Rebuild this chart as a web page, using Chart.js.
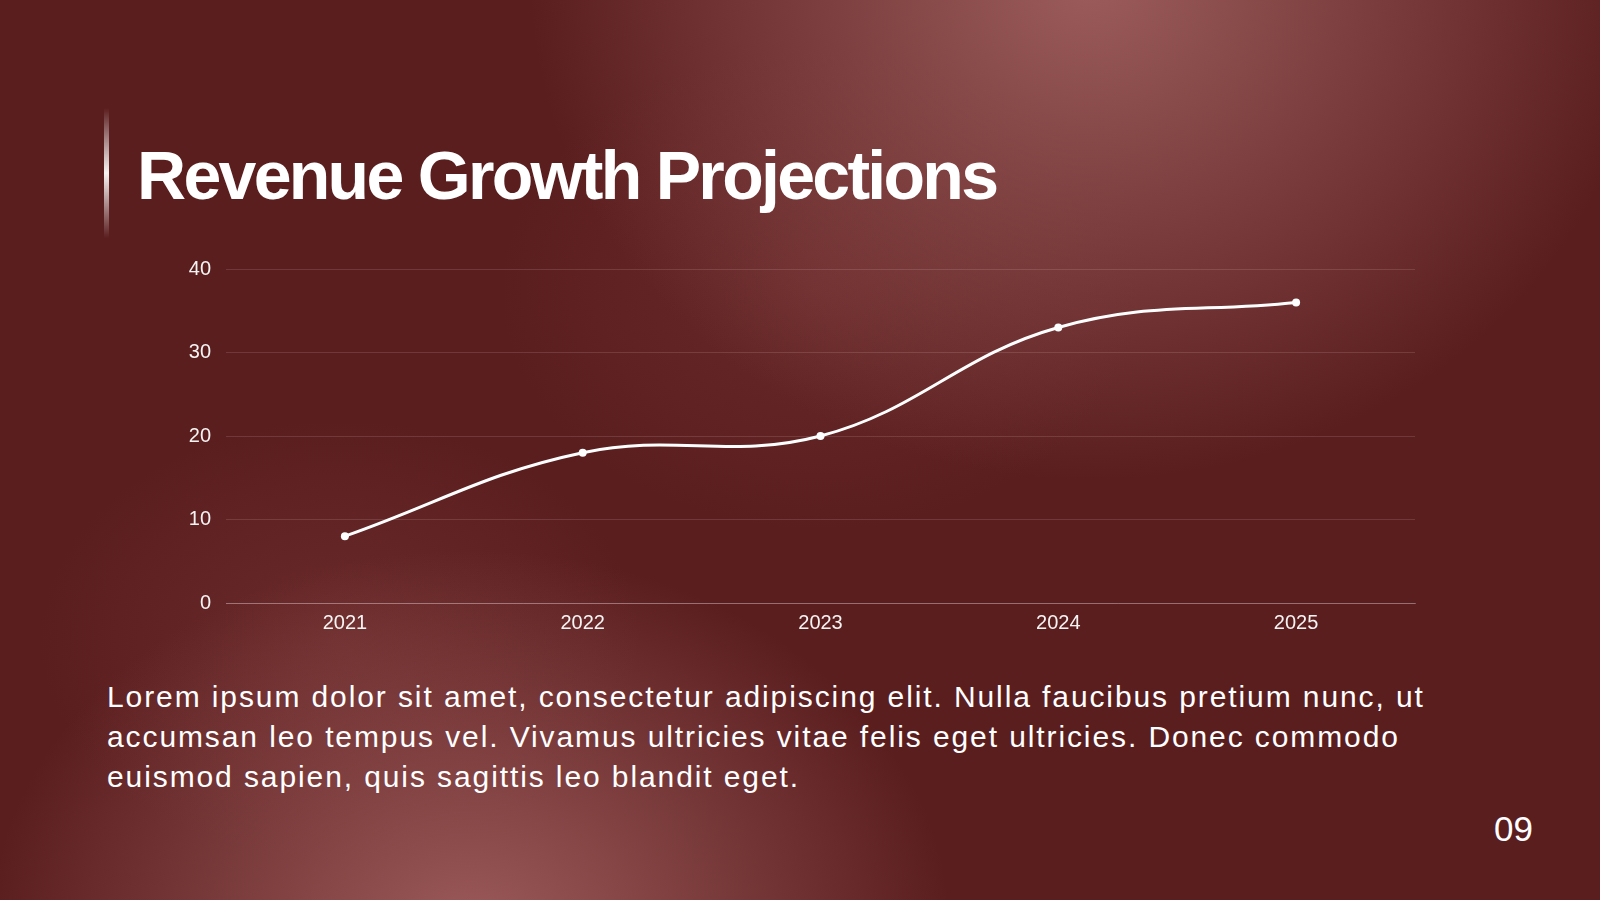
<!DOCTYPE html>
<html>
<head>
<meta charset="utf-8">
<title>Revenue Growth Projections</title>
<script src="https://cdn.jsdelivr.net/npm/chart.js@4/dist/chart.umd.min.js"></script>
<style>
  html, body { margin: 0; padding: 0; }
  body {
    width: 1600px;
    height: 900px;
    position: relative;
    overflow: hidden;
    font-family: "Liberation Sans", Arial, sans-serif;
    color: #fff;
    background-color: #5b1e1f;
    background-image:
      radial-gradient(ellipse 560px 500px at 1090px -20px, rgba(156, 92, 92, 1) 0%, rgba(156, 92, 92, 0.55) 45%, rgba(91, 30, 31, 0) 100%),
      radial-gradient(ellipse 480px 380px at 470px 930px, rgba(156, 90, 90, 1) 0%, rgba(156, 90, 90, 0.55) 45%, rgba(91, 30, 31, 0) 100%),
      radial-gradient(ellipse 320px 240px at 820px 290px, rgba(130, 60, 60, 0.35) 0%, rgba(91, 30, 31, 0) 100%),
      radial-gradient(ellipse 300px 220px at 340px 640px, rgba(130, 60, 60, 0.4) 0%, rgba(91, 30, 31, 0) 100%);
  }
  .accent {
    position: absolute;
    left: 104px;
    top: 108px;
    width: 5px;
    height: 130px;
    background: linear-gradient(to bottom, rgba(255,255,255,0) 0%, rgba(255,255,255,0.95) 50%, rgba(255,255,255,0) 100%);
  }
  h1 {
    position: absolute;
    left: 137px;
    top: 141px;
    margin: 0;
    font-size: 68px;
    line-height: 68px;
    font-weight: 700;
    letter-spacing: -2.7px;
    white-space: nowrap;
  }
  .chart-box {
    position: absolute;
    left: 140px;
    top: 242px;
    width: 1279px;
    height: 401px;
  }
  p.body {
    position: absolute;
    left: 107px;
    top: 677px;
    margin: 0;
    font-size: 30px;
    line-height: 40px;
    letter-spacing: 1.9px;
    white-space: nowrap;
  }
  .page-num {
    position: absolute;
    right: 67px;
    top: 811px;
    font-size: 35px;
    line-height: 35px;
  }
</style>
</head>
<body>
<div class="accent"></div>
<h1>Revenue Growth Projections</h1>
<div class="chart-box"><canvas id="revenue-chart"></canvas></div>
<p class="body">Lorem ipsum dolor sit amet, consectetur adipiscing elit. Nulla faucibus pretium nunc, ut<br>accumsan leo tempus vel. Vivamus ultricies vitae felis eget ultricies. Donec commodo<br>euismod sapien, quis sagittis leo blandit eget.</p>
<div class="page-num">09</div>

<script>
// chart data
const years   = ['2021', '2022', '2023', '2024', '2025'];
const revenue = [8, 18, 20, 33, 36];
const yTicks  = [0, 10, 20, 30, 40];

const tickFont = { family: '"Liberation Sans", Arial, sans-serif', size: 20 };

const ctx = document.getElementById('revenue-chart').getContext('2d');
new Chart(ctx, {
  type: 'line',
  data: {
    labels: years,
    datasets: [{
      label: 'Revenue',
      data: revenue,
      borderColor: '#ffffff',
      backgroundColor: '#ffffff',
      borderWidth: 3,
      tension: 0.4,
      pointRadius: 4,
      pointBorderWidth: 0,
      pointBackgroundColor: '#ffffff',
      fill: false
    }]
  },
  options: {
    responsive: true,
    maintainAspectRatio: false,
    animation: false,
    layout: { padding: { top: 10, right: 0, bottom: 0, left: 0 } },
    plugins: {
      legend: { display: false },
      tooltip: { enabled: false }
    },
    scales: {
      x: {
        offset: true,
        grid: { display: false, drawTicks: false },
        border: { display: true, color: 'rgba(255,255,255,0.28)', width: 1 },
        ticks: { color: 'rgba(255,255,255,0.95)', font: tickFont, padding: 8 },
        afterFit: scale => { scale.height = 40; }
      },
      y: {
        min: 0,
        max: 40,
        afterBuildTicks: scale => { scale.ticks = yTicks.map(v => ({ value: v })); },
        grid: { color: 'rgba(255,255,255,0.12)', drawTicks: false, lineWidth: 1 },
        border: { display: false },
        ticks: { color: 'rgba(255,255,255,0.95)', font: tickFont, padding: 15 },
        afterFit: scale => { scale.width = 86; }
      }
    }
  }
});
</script>
</body>
</html>
